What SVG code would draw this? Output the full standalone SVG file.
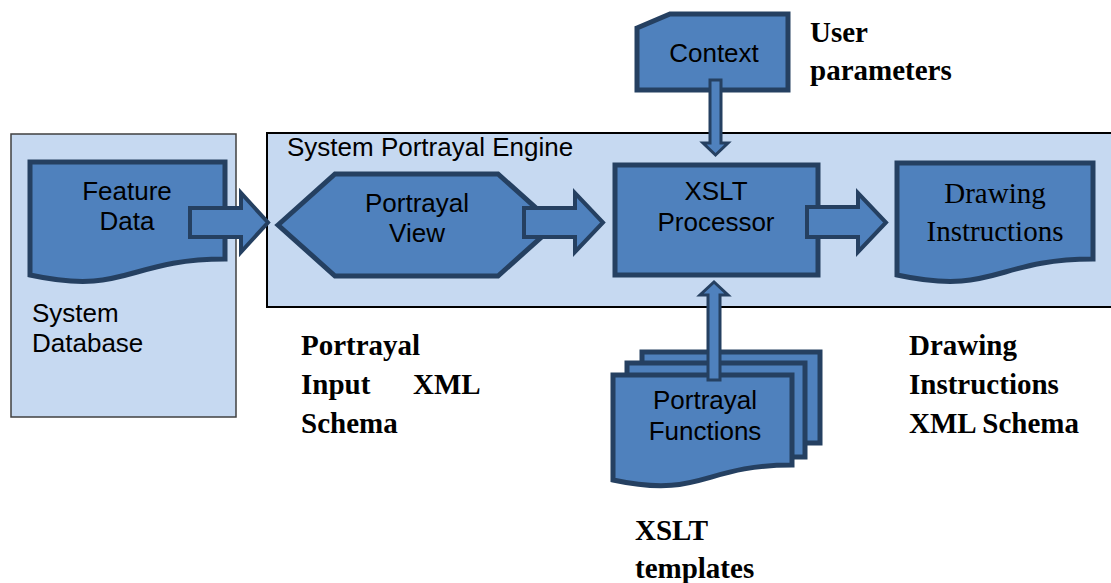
<svg xmlns="http://www.w3.org/2000/svg" width="1111" height="583" viewBox="0 0 1111 583">
<defs>
<style>
.node{fill:#4f81bd;stroke:#254061;stroke-width:5;stroke-linejoin:miter}
.blk{fill:#4f81bd;stroke:#254061;stroke-width:4;stroke-linejoin:miter}
.thin{fill:#4f81bd;stroke:#254061;stroke-width:3;stroke-linejoin:miter}
.sans{font-family:"Liberation Sans",Arial,sans-serif;font-size:26px;fill:#000}
.serif{font-family:"Liberation Serif","Times New Roman",serif;font-size:29px;fill:#000}
.bold{font-family:"Liberation Serif","Times New Roman",serif;font-size:29px;font-weight:bold;fill:#000}
</style>
</defs>
<rect width="1111" height="583" fill="#fff"/>
<g id="system-database">
<rect x="11" y="134" width="225" height="283" fill="#c6d9f1" stroke="#404040" stroke-width="1.5"/>
<text class="sans" x="32" y="322">System</text>
<text class="sans" x="32" y="352">Database</text>
</g>
<g id="engine">
<rect x="267" y="133" width="850" height="174" fill="#c6d9f1" stroke="#000" stroke-width="2"/>
<text class="sans" x="287" y="156">System Portrayal Engine</text>
</g>
<g id="feature-data">
<path class="node" d="M30,162 H225 V259 C127,259 127,296 30,275 Z"/>
<text class="sans" x="127" y="200" text-anchor="middle">Feature</text>
<text class="sans" x="127" y="230" text-anchor="middle">Data</text>
</g>
<g id="portrayal-view">
<polygon class="node" points="278,225 335,174 498,174 555,225 498,276 335,276"/>
<text class="sans" x="417" y="212" text-anchor="middle">Portrayal</text>
<text class="sans" x="417" y="242" text-anchor="middle">View</text>
</g>
<g id="xslt-processor">
<rect class="node" x="615" y="165" width="203" height="110"/>
<text class="sans" x="716" y="200" text-anchor="middle">XSLT</text>
<text class="sans" x="716" y="231" text-anchor="middle">Processor</text>
</g>
<g id="drawing-instructions">
<path class="node" d="M897,163 H1093 V259 C995,259 995,296 897,275 Z"/>
<text class="serif" x="995" y="203" text-anchor="middle">Drawing</text>
<text class="serif" x="995" y="241" text-anchor="middle">Instructions</text>
</g>
<g id="context">
<polygon class="node" points="637,28 670,14 788,14 788,90 637,90"/>
<text class="sans" x="714" y="62" text-anchor="middle">Context</text>
</g>
<g id="portrayal-functions">
<rect class="node" x="642" y="352" width="178" height="91"/>
<rect class="node" x="627" y="363" width="178" height="94"/>
<path class="node" d="M613,375 H792 V465 C702,465 702,499 613,480 Z"/>
<text class="sans" x="705" y="409" text-anchor="middle">Portrayal</text>
<text class="sans" x="705" y="440" text-anchor="middle">Functions</text>
</g>
<g id="labels">
<text class="bold" x="810" y="42">User</text>
<text class="bold" x="810" y="80">parameters</text>
<text class="bold" x="301" y="355">Portrayal</text>
<text class="bold" y="394"><tspan x="301">Input</tspan><tspan x="413">XML</tspan></text>
<text class="bold" x="301" y="433">Schema</text>
<text class="bold" x="909" y="355">Drawing</text>
<text class="bold" x="909" y="394">Instructions</text>
<text class="bold" x="909" y="433">XML Schema</text>
<text class="bold" x="635" y="540">XSLT</text>
<text class="bold" x="635" y="578">templates</text>
</g>
<g id="connectors">
<polygon class="blk" points="190,208 241,208 241,193 268,222.5 241,252 241,237 190,237"/>
<polygon class="blk" points="524,208 575,208 575,193 603,222.5 575,252 575,237 524,237"/>
<polygon class="blk" points="807,207 858,207 858,193 886,222.5 858,252 858,237 807,237"/>
<polygon class="thin" points="710,80 721,80 721,143 728,143 715.5,155 703,143 710,143"/>
<polygon class="thin" points="708,380 720,380 720,295 728,295 714,282 700,295 708,295"/>
</g>
</svg>
